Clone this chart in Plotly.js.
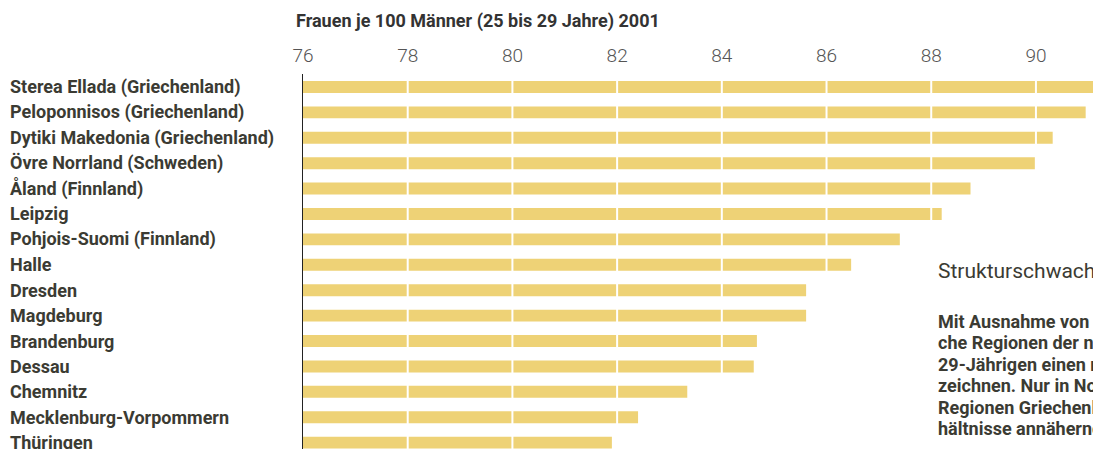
<!DOCTYPE html>
<html>
<head>
<meta charset="utf-8">
<script src="https://cdn.plot.ly/plotly-3.0.1.min.js"></script>
<style>
html,body{margin:0;padding:0;overflow:hidden;background:#fff;}
#chart{width:1093px;height:449px;}
</style>
</head>
<body>
<div id="chart"></div>
<script>
const regions = [
  "Sterea Ellada (Griechenland)",
  "Peloponnisos (Griechenland)",
  "Dytiki Makedonia (Griechenland)",
  "Övre Norrland (Schweden)",
  "Åland (Finnland)",
  "Leipzig",
  "Pohjois-Suomi (Finnland)",
  "Halle",
  "Dresden",
  "Magdeburg",
  "Brandenburg",
  "Dessau",
  "Chemnitz",
  "Mecklenburg-Vorpommern",
  "Thüringen"
];
const frauenJe100 = [91.2, 90.95, 90.32, 89.98, 88.75, 88.2, 87.4, 86.47, 85.61, 85.61, 84.67, 84.61, 83.34, 82.4, 81.9];
const tickValues = [76, 78, 80, 82, 84, 86, 88, 90];
const chartTitle = "Frauen je 100 Männer (25 bis 29 Jahre) 2001";
const sideHeading = "Strukturschwach";
const sideText = [
  "Mit Ausnahme von L",
  "che Regionen der ne",
  "29-Jährigen einen m",
  "zeichnen. Nur in No",
  "Regionen Griechenl",
  "hältnisse annähernd"
];

const labelFont = {family: "Roboto, sans-serif", size: 18, color: "#3b3b33", weight: 700};
const H = 449, T = 74, PH = H - T;
const py = p => (H - p) / PH;

const annotations = regions.map(r => ({
  text: r, xref: "paper", yref: "y", x: (8 - 303) / 790, y: r,
  xanchor: "left", yanchor: "middle", showarrow: false, font: labelFont
}));
annotations.push({
  text: sideHeading, xref: "paper", yref: "paper", x: (936 - 303) / 790, y: py(271),
  xanchor: "left", yanchor: "middle", showarrow: false,
  font: {family: "Roboto, sans-serif", size: 21, color: "#3b3b33", weight: 400}
});
const lineY = [321, 342.5, 364, 385.5, 407, 428.5];
sideText.forEach((t, i) => annotations.push({
  text: t, xref: "paper", yref: "paper", x: (936 - 303) / 790, y: py(lineY[i]),
  xanchor: "left", yanchor: "middle", showarrow: false, font: labelFont
}));

const shapes = tickValues.filter(v => v > 76).map(v => ({
  type: "line", xref: "x", yref: "paper", x0: v, x1: v, y0: 0, y1: 1,
  layer: "above", line: {color: "#ffffff", width: 2}
}));

const trace = {
  type: "bar", orientation: "h", y: regions,
  x: frauenJe100.map(v => v - 76), base: 76,
  marker: {color: "#eed276", line: {width: 0}}, hoverinfo: "skip"
};

const layout = {
  width: 1093, height: 449,
  margin: {l: 303, r: 0, t: T, b: 0, pad: 0},
  paper_bgcolor: "#fff", plot_bgcolor: "#fff",
  bargap: 0.53,
  showlegend: false,
  title: {
    text: chartTitle, xref: "container", yref: "container",
    x: 296 / 1093, y: 1 - 21 / 449, xanchor: "left", yanchor: "middle",
    font: {family: "Roboto, sans-serif", size: 18, color: "#333", weight: 700}
  },
  xaxis: {
    side: "top", range: [76, 91.09], tickvals: tickValues, ticks: "",
    ticklabelstandoff: 7,
    showgrid: false, zeroline: false, showline: false, fixedrange: true,
    tickfont: {family: "Roboto, sans-serif", size: 19, color: "#555", weight: 300}
  },
  yaxis: {
    type: "category", categoryorder: "array", categoryarray: regions,
    range: [14.25, -0.51], showticklabels: false, ticks: "",
    showgrid: false, zeroline: false, showline: true, linecolor: "#222", linewidth: 1.5,
    fixedrange: true
  },
  annotations: annotations,
  shapes: shapes
};

Plotly.newPlot("chart", [trace], layout, {displayModeBar: false, staticPlot: true});
</script>
</body>
</html>
